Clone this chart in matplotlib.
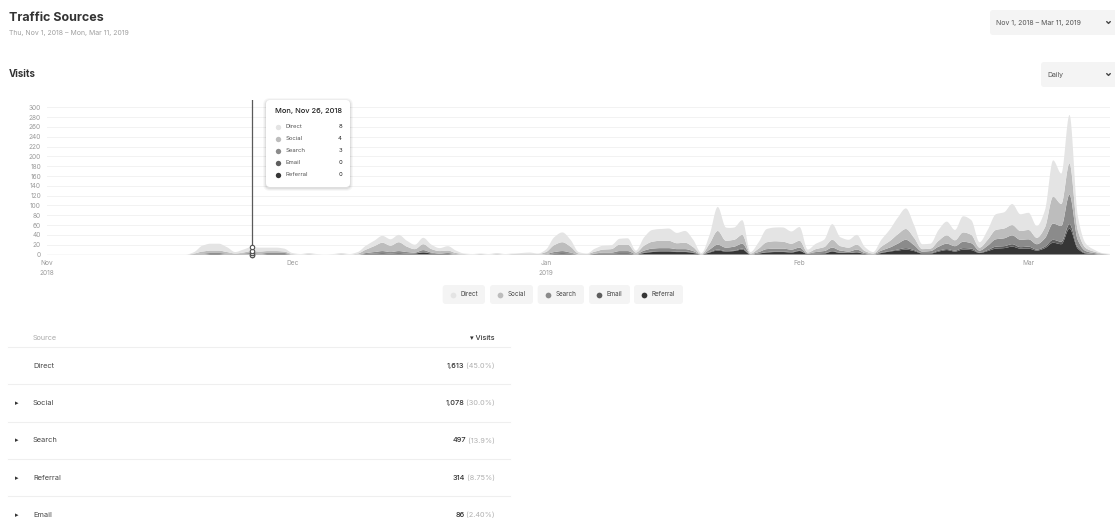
import numpy as np
import pandas as pd
import matplotlib
matplotlib.use("Agg")
import matplotlib.pyplot as plt
import matplotlib.dates as mdates
from matplotlib.patches import FancyBboxPatch

plt.rcParams['font.family'] = ['Inter', 'DejaVu Sans']

# ---------------------------------------------------------------- data
dates = pd.date_range("2018-11-01", "2019-03-11", freq="D")

series_names = ["Direct", "Social", "Search", "Email", "Referral"]
series_colors = ["#e4e4e4", "#bdbdbd", "#8b8b8b", "#5e5e5e", "#363636"]

# daily visits per source (Nov | Dec | Jan | Feb | Mar)
direct = ([0] * 18 + [3, 12, 14, 14, 10, 3, 6, 8, 8, 7, 7, 6]
          + [2, 1, 2, 1, 0, 1, 2, 1, 3, 8, 11, 14, 13, 15, 12, 9, 13, 9, 6, 9, 5, 1, 1, 1, 1, 2, 1, 1, 2, 3, 1]
          + [5, 16, 20, 14, 3, 1, 6, 8, 8, 12, 13, 4, 17, 24, 24, 25, 21, 24, 15, 2, 18, 49, 27, 25, 30, 3, 13, 27, 28, 29, 25]
          + [28, 6, 11, 15, 32, 18, 16, 20, 8, 3, 14, 23, 34, 42, 26, 10, 10, 22, 28, 21, 33, 30, 11, 20, 32, 33, 43, 34]
          + [35, 24, 35, 74, 62, 99, 30, 9, 4, 1, 1])
social = ([0] * 18 + [1, 4, 5, 5, 3, 1, 2, 4, 4, 4, 4, 3]
          + [1, 0, 1, 0, 0, 0, 1, 0, 2, 7, 12, 17, 13, 18, 11, 7, 12, 7, 5, 5, 2, 1, 0, 1, 0, 1, 0, 1, 1, 1, 1]
          + [4, 14, 18, 12, 2, 1, 4, 6, 7, 13, 13, 3, 10, 14, 15, 15, 12, 13, 8, 1, 12, 28, 14, 14, 18, 1, 7, 14, 15, 14, 12]
          + [14, 2, 6, 8, 16, 9, 8, 10, 4, 1, 8, 13, 19, 22, 15, 5, 5, 12, 17, 12, 19, 17, 6, 12, 19, 20, 21, 18]
          + [19, 13, 22, 55, 45, 64, 20, 6, 3, 1, 0])
search = ([0] * 18 + [1, 2, 2, 2, 2, 1, 2, 3, 2, 2, 2, 2]
          + [0] * 9 + [2, 3, 4, 3, 4, 3, 2, 4, 2, 1, 2, 1] + [0] * 10
          + [1, 3, 4, 2, 0, 0, 1, 2, 2, 4, 4, 1, 4, 6, 6, 6, 5, 5, 3, 0, 5, 10, 7, 8, 10, 1, 3, 6, 6, 6, 5]
          + [6, 1, 3, 4, 7, 4, 3, 5, 2, 1, 4, 7, 12, 17, 10, 3, 4, 8, 11, 9, 13, 11, 4, 9, 15, 16, 18, 15]
          + [15, 11, 17, 33, 32, 60, 15, 4, 2, 1, 0])
email = ([0] * 30
         + [0] * 10 + [1, 1, 1, 1, 1, 0, 1] + [0] * 14
         + [0, 1, 1, 1, 0, 0, 0, 1, 1, 1, 1, 0, 1, 1, 1, 1, 1, 1, 1, 0, 1, 2, 1, 1, 2, 0, 0, 1, 1, 1, 1]
         + [1, 0, 0, 1, 1, 1, 0, 1, 0, 0, 1, 1, 2, 3, 2, 1, 1, 2, 2, 2, 3, 3, 1, 2, 4, 4, 5, 3]
         + [4, 2, 3, 6, 5, 9, 3, 1, 0, 0, 0])
referral = ([0] * 20 + [1, 1, 0, 0, 0, 0, 0, 1, 1, 1]
            + [0] * 9 + [1, 1, 2, 1, 2, 1, 2, 4, 2, 1, 1] + [0] * 11
            + [0, 1, 2, 1, 0, 0, 1, 1, 1, 2, 2, 0, 3, 5, 6, 6, 5, 5, 3, 0, 4, 8, 6, 7, 10, 0, 2, 4, 5, 5, 4]
            + [7, 1, 2, 2, 6, 3, 3, 4, 1, 0, 3, 6, 8, 10, 7, 2, 2, 6, 9, 6, 10, 9, 3, 7, 12, 13, 16, 12]
            + [12, 8, 13, 24, 21, 53, 12, 2, 1, 0, 0])

series_values = [direct, social, search, email, referral]

# totals table
table_sources = ["Direct", "Social", "Search", "Referral", "Email"]
table_visits = [1613, 1078, 497, 314, 86]

hover_date = pd.Timestamp("2018-11-26")

y_ticks = list(range(0, 301, 20))

# ---------------------------------------------------------------- helpers
def monotone_curve(x, y, xf):
    """Monotone cubic (Fritsch-Carlson) interpolation of y over x at xf."""
    x = np.asarray(x, float)
    y = np.asarray(y, float)
    h = np.diff(x)
    d = np.diff(y) / h
    m = np.zeros_like(y)
    for k in range(1, len(y) - 1):
        if d[k - 1] * d[k] > 0:
            w1 = 2 * h[k] + h[k - 1]
            w2 = h[k] + 2 * h[k - 1]
            m[k] = (w1 + w2) / (w1 / d[k - 1] + w2 / d[k])
    m[0] = d[0]
    m[-1] = d[-1]
    i = np.clip(np.searchsorted(x, xf) - 1, 0, len(x) - 2)
    t = (xf - x[i]) / h[i]
    h00 = 2 * t**3 - 3 * t**2 + 1
    h10 = t**3 - 2 * t**2 + t
    h01 = -2 * t**3 + 3 * t**2
    h11 = t**3 - t**2
    out = h00 * y[i] + h10 * h[i] * m[i] + h01 * y[i + 1] + h11 * h[i] * m[i + 1]
    return np.clip(out, 0, None)


W, H = 1115, 518
fig = plt.figure(figsize=(W / 100, H / 100), dpi=100)
fig.patch.set_facecolor("white")

# ---------------------------------------------------------------- chart
x_num = mdates.date2num(dates)
x_fine = np.linspace(x_num[0], x_num[-1], len(x_num) * 12)

ax_left, ax_right = 47, 1110.4
ax_bottom, ax_top = 254.5, 100
ax = fig.add_axes([ax_left / W, 1 - ax_bottom / H, (ax_right - ax_left) / W, (ax_bottom - ax_top) / H])
ax.set_xlim(x_num[0], x_num[-1])
ax.set_ylim(0, 315)

# stack from the darkest source at the bottom to the lightest on top
order = list(range(len(series_names)))[::-1]
smooth = [monotone_curve(x_num, series_values[k], x_fine) for k in order]
ax.stackplot(x_fine, smooth, colors=[series_colors[k] for k in order], linewidth=0, zorder=2)

ax.axhline(0, color="#dedede", lw=1.0, zorder=1)
ax.set_yticks(y_ticks)
ax.grid(axis="y", color="#f2f2f2", lw=0.7)
ax.set_axisbelow(True)
for s in ax.spines.values():
    s.set_visible(False)
ax.tick_params(axis="y", length=0, pad=4.3, labelsize=4.7, labelcolor="#9a9a9a")

month_starts = [d for d in dates if d.day == 1]
labels = []
for j, d in enumerate(month_starts):
    lab = d.strftime("%b")
    if j == 0 or d.month == 1:
        lab += "\n" + d.strftime("%Y")
    labels.append(lab)
ax.set_xticks(mdates.date2num(month_starts))
ax.set_xticklabels(labels, linespacing=1.8)
ax.tick_params(axis="x", length=0, pad=4.0, labelsize=4.7, labelcolor="#9a9a9a")

# hover indicator
hx = mdates.date2num(hover_date)
hi = int((hover_date - dates[0]).days)
ax.axvline(hx, color="#5a5a5a", lw=0.9, zorder=5)
cum = np.cumsum([series_values[k][hi] for k in order])
ax.scatter([hx] * len(cum), cum, s=10, facecolor="white", edgecolor="#505050",
           linewidths=0.8, zorder=6, clip_on=False)

# ---------------------------------------------------------------- overlay (pixel coordinates)
ov = fig.add_axes([0, 0, 1, 1], zorder=10)
ov.set_xlim(0, W)
ov.set_ylim(H, 0)
ov.axis("off")
ov.patch.set_alpha(0)


def box(x0, y0, x1, y1, fc, r=3, ec="none", lw=0, z=1, alpha=1):
    p = FancyBboxPatch((x0, y0), x1 - x0, y1 - y0, boxstyle=f"round,pad=0,rounding_size={r}",
                       fc=fc, ec=ec, lw=lw, zorder=z, alpha=alpha)
    ov.add_patch(p)


def chevron(xc, yc, color="#444444"):
    ov.plot([xc - 1.8, xc, xc + 1.8], [yc - 0.9, yc + 0.9, yc - 0.9], color=color, lw=1.0,
            solid_capstyle="round", solid_joinstyle="round", zorder=3)


# header
ov.text(9, 18, "Traffic Sources", fontsize=9, fontweight="bold", color="#333333", va="center")
ov.text(9, 32.5, "Thu, Nov 1, 2018 – Mon, Mar 11, 2019", fontsize=5, color="#a0a0a0", va="center")
ov.text(9, 74, "Visits", fontsize=7, fontweight="bold", color="#333333", va="center")

box(990, 10, 1125, 35, "#f4f4f4")
ov.text(996, 22.5, "Nov 1, 2018 – Mar 11, 2019", fontsize=5, color="#555555", va="center")
chevron(1108.5, 22.5)
box(1041, 62, 1125, 87, "#f4f4f4")
ov.text(1047, 74.5, "Daily", fontsize=5, color="#555555", va="center")
chevron(1108.5, 74.5)

# tooltip
for grow, a in [(3, 0.03), (2, 0.04), (1, 0.06)]:
    box(266 - grow, 100 - grow + 1, 350 + grow, 187 + grow + 1, "#000000", r=4 + grow, z=4, alpha=a)
box(266, 100, 350, 187, "white", r=4, z=5)
ov.text(275, 111.5, hover_date.strftime("%a, %b %-d, %Y"), fontsize=5.4, fontweight="medium",
        color="#222222", va="center", zorder=6)
for j, (name, col, vals) in enumerate(zip(series_names, series_colors, series_values)):
    yy = 127 + 12 * j
    ov.scatter([278], [yy], s=15, color=col, zorder=6, linewidths=0)
    ov.text(286, yy, name, fontsize=4.3, color="#555555", va="center", zorder=6)
    ov.text(342, yy, str(vals[hi]), fontsize=4.3, color="#222222", va="center", ha="right", zorder=6)

# legend pills
pill_edges = [(442.7, 485), (490, 533), (537.7, 584), (589, 630), (634, 683)]
for (x0, x1), name, col in zip(pill_edges, series_names, series_colors):
    box(x0, 285, x1, 304, "#f4f4f4", r=3)
    ov.scatter([x0 + 10], [294.5], s=17, color=col, zorder=3, linewidths=0)
    ov.text(x0 + 17.5, 294.5, name, fontsize=4.5, color="#444444", va="center", zorder=3)

# totals table
grand_total = sum(table_visits)
ov.text(32.5, 338, "Source", fontsize=5.2, color="#ababab", va="center")
ov.text(495, 338, "▾ Visits", fontsize=5.2, color="#333333", va="center", ha="right",
        fontweight="medium")
for ysep in [347, 384, 421.5, 459, 496]:
    ov.plot([8, 510], [ysep, ysep], color="#efefef", lw=0.8, zorder=1)

fig.canvas.draw()
renderer = fig.canvas.get_renderer()
for j, (name, v) in enumerate(zip(table_sources, table_visits)):
    yy = 366 + 37.2 * j
    if j > 0:
        ov.text(16.5, yy, "▸", fontsize=5, color="#333333", va="center", ha="center",
                family="DejaVu Sans")
    ov.text(33, yy, name, fontsize=5.3, color="#444444", va="center")
    share = f"{100 * v / grand_total:#.3g}%"
    t = ov.text(495, yy, f" ({share})", fontsize=5.3, color="#b0b0b0", va="center", ha="right")
    bb = t.get_window_extent(renderer=renderer)
    ov.text(bb.x0, yy, f"{v:,}", fontsize=5.3, color="#333333", va="center", ha="right",
            fontweight="medium")

fig.savefig("out.png", dpi=100, facecolor="white")
